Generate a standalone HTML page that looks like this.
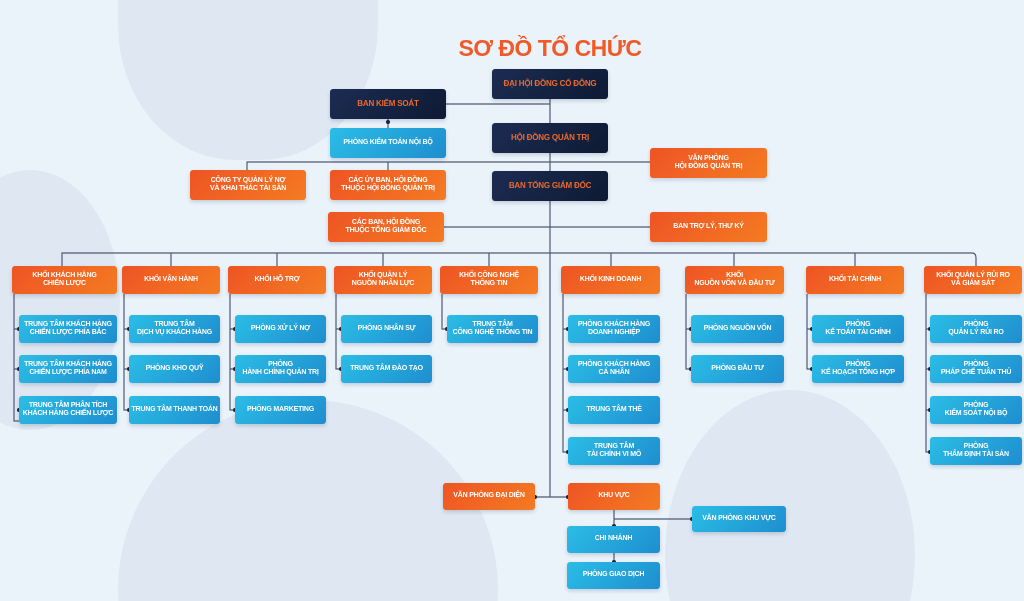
<!DOCTYPE html>
<html style="width:1024px;height:601px;overflow:hidden"><head><meta charset="utf-8"><style>
*{margin:0;padding:0;box-sizing:border-box}
body{width:1024px;height:601px;overflow:hidden;background:#ebf3fa;position:relative;font-family:"Liberation Sans","DejaVu Sans",sans-serif}
.bg{position:absolute;background:#dfe8f2;border-radius:50%}
.b{position:absolute;display:flex;align-items:center;justify-content:center;text-align:center;font-size:7px;font-weight:bold;line-height:1.2;color:#fff;border-radius:3px;box-shadow:0 2px 4px rgba(0,40,90,.18);text-transform:uppercase;letter-spacing:-.2px}
.d{background:linear-gradient(135deg,#1c2c52,#0e1a33);color:#ea6a30;font-size:8px}
.o{background:linear-gradient(135deg,#ee5424,#f47b22)}
.u{background:linear-gradient(135deg,#2bbde6,#1e8ecf)}
h1{position:absolute;left:0;width:1100px;top:35px;text-align:center;font-size:23px;color:#f05a28;font-weight:bold;letter-spacing:-.5px}
svg{position:absolute;left:0;top:0}
</style></head><body>
<div class="bg" style="left:118px;top:-140px;width:260px;height:300px;border-radius:45%"></div>
<div class="bg" style="left:-60px;top:170px;width:180px;height:260px"></div>
<div class="bg" style="left:118px;top:400px;width:380px;height:380px"></div>
<div class="bg" style="left:665px;top:390px;width:250px;height:330px"></div>
<h1>SƠ ĐỒ TỔ CHỨC</h1>
<svg width="1024" height="601" stroke="#4d5a73" stroke-width="1.2" fill="none">
<path d="M550 99V497M446 104H550M388 119V128M247 170V162H650M388 162V170M444 227H650M62 266V253H972Q976 253 976 258V266"/>
<path d="M171 253V266M277 253V266M383 253V266M489 253V266M611 253V266M734 253V266M855 253V266"/>
<path d="M14 294V421H19M14 329H19M14 369H19M124 294V410H129M124 329H129M124 369H129M230 294V410H235M230 329H235M230 369H235M336 294V369H341M336 329H341M442 294V329H447M563 294V452H568M563 329H568M563 369H568M563 410H568M686 294V369H691M686 329H691M807 294V369H812M807 329H812M926 294V452H930M926 329H930M926 369H930M926 410H930"/>
<path d="M535 497H568M614 510V519H692M614 519V526M614 553V562"/>
<g fill="#1a2540" stroke="none">
<circle cx="388" cy="122" r="2"/><circle cx="535" cy="497" r="2"/><circle cx="568" cy="497" r="2"/><circle cx="692" cy="519" r="2"/><circle cx="614" cy="526" r="2"/><circle cx="614" cy="562" r="2"/>
<circle cx="19" cy="329" r="2"/><circle cx="19" cy="369" r="2"/><circle cx="19" cy="410" r="2"/>
<circle cx="129" cy="329" r="2"/><circle cx="129" cy="369" r="2"/><circle cx="129" cy="410" r="2"/>
<circle cx="235" cy="329" r="2"/><circle cx="235" cy="369" r="2"/><circle cx="235" cy="410" r="2"/>
<circle cx="341" cy="329" r="2"/><circle cx="341" cy="369" r="2"/><circle cx="447" cy="329" r="2"/>
<circle cx="568" cy="329" r="2"/><circle cx="568" cy="369" r="2"/><circle cx="568" cy="410" r="2"/><circle cx="568" cy="452" r="2"/>
<circle cx="691" cy="329" r="2"/><circle cx="691" cy="369" r="2"/><circle cx="812" cy="329" r="2"/><circle cx="812" cy="369" r="2"/>
<circle cx="930" cy="329" r="2"/><circle cx="930" cy="369" r="2"/><circle cx="930" cy="410" r="2"/><circle cx="930" cy="452" r="2"/>
</g></svg>
<div class="b d" style="left:492px;top:69px;width:116px;height:30px">ĐẠI HỘI ĐỒNG CỔ ĐÔNG</div>
<div class="b d" style="left:330px;top:89px;width:116px;height:30px">BAN KIỂM SOÁT</div>
<div class="b u" style="left:330px;top:128px;width:116px;height:30px">PHÒNG KIỂM TOÁN NỘI BỘ</div>
<div class="b d" style="left:492px;top:123px;width:116px;height:30px">HỘI ĐỒNG QUẢN TRỊ</div>
<div class="b o" style="left:650px;top:148px;width:117px;height:30px">VĂN PHÒNG<br>HỘI ĐỒNG QUẢN TRỊ</div>
<div class="b o" style="left:190px;top:170px;width:116px;height:30px">CÔNG TY QUẢN LÝ NỢ<br>VÀ KHAI THÁC TÀI SẢN</div>
<div class="b o" style="left:330px;top:170px;width:116px;height:30px">CÁC ỦY BAN, HỘI ĐỒNG<br>THUỘC HỘI ĐỒNG QUẢN TRỊ</div>
<div class="b d" style="left:492px;top:171px;width:116px;height:30px">BAN TỔNG GIÁM ĐỐC</div>
<div class="b o" style="left:328px;top:212px;width:116px;height:30px">CÁC BAN, HỘI ĐỒNG<br>THUỘC TỔNG GIÁM ĐỐC</div>
<div class="b o" style="left:650px;top:212px;width:117px;height:30px">BAN TRỢ LÝ, THƯ KÝ</div>

<div class="b o" style="left:12px;top:266px;width:105px;height:28px">KHỐI KHÁCH HÀNG<br>CHIẾN LƯỢC</div>
<div class="b o" style="left:122px;top:266px;width:98px;height:28px">KHỐI VẬN HÀNH</div>
<div class="b o" style="left:228px;top:266px;width:98px;height:28px">KHỐI HỖ TRỢ</div>
<div class="b o" style="left:334px;top:266px;width:98px;height:28px">KHỐI QUẢN LÝ<br>NGUỒN NHÂN LỰC</div>
<div class="b o" style="left:440px;top:266px;width:98px;height:28px">KHỐI CÔNG NGHỆ<br>THÔNG TIN</div>
<div class="b o" style="left:561px;top:266px;width:99px;height:28px">KHỐI KINH DOANH</div>
<div class="b o" style="left:685px;top:266px;width:99px;height:28px">KHỐI<br>NGUỒN VỐN VÀ ĐẦU TƯ</div>
<div class="b o" style="left:806px;top:266px;width:98px;height:28px">KHỐI TÀI CHÍNH</div>
<div class="b o" style="left:924px;top:266px;width:98px;height:28px">KHỐI QUẢN LÝ RỦI RO<br>VÀ GIÁM SÁT</div>

<div class="b u" style="left:19px;top:315px;width:98px;height:28px">TRUNG TÂM KHÁCH HÀNG<br>CHIẾN LƯỢC PHÍA BẮC</div>
<div class="b u" style="left:19px;top:355px;width:98px;height:28px">TRUNG TÂM KHÁCH HÀNG<br>CHIẾN LƯỢC PHÍA NAM</div>
<div class="b u" style="left:19px;top:396px;width:98px;height:28px">TRUNG TÂM PHÂN TÍCH<br>KHÁCH HÀNG CHIẾN LƯỢC</div>
<div class="b u" style="left:129px;top:315px;width:91px;height:28px">TRUNG TÂM<br>DỊCH VỤ KHÁCH HÀNG</div>
<div class="b u" style="left:129px;top:355px;width:91px;height:28px">PHÒNG KHO QUỸ</div>
<div class="b u" style="left:129px;top:396px;width:91px;height:28px">TRUNG TÂM THANH TOÁN</div>
<div class="b u" style="left:235px;top:315px;width:91px;height:28px">PHÒNG XỬ LÝ NỢ</div>
<div class="b u" style="left:235px;top:355px;width:91px;height:28px">PHÒNG<br>HÀNH CHÍNH QUẢN TRỊ</div>
<div class="b u" style="left:235px;top:396px;width:91px;height:28px">PHÒNG MARKETING</div>
<div class="b u" style="left:341px;top:315px;width:91px;height:28px">PHÒNG NHÂN SỰ</div>
<div class="b u" style="left:341px;top:355px;width:91px;height:28px">TRUNG TÂM ĐÀO TẠO</div>
<div class="b u" style="left:447px;top:315px;width:91px;height:28px">TRUNG TÂM<br>CÔNG NGHỆ THÔNG TIN</div>
<div class="b u" style="left:568px;top:315px;width:92px;height:28px">PHÒNG KHÁCH HÀNG<br>DOANH NGHIỆP</div>
<div class="b u" style="left:568px;top:355px;width:92px;height:28px">PHÒNG KHÁCH HÀNG<br>CÁ NHÂN</div>
<div class="b u" style="left:568px;top:396px;width:92px;height:28px">TRUNG TÂM THẺ</div>
<div class="b u" style="left:568px;top:437px;width:92px;height:28px">TRUNG TÂM<br>TÀI CHÍNH VI MÔ</div>
<div class="b u" style="left:691px;top:315px;width:93px;height:28px">PHÒNG NGUỒN VỐN</div>
<div class="b u" style="left:691px;top:355px;width:93px;height:28px">PHÒNG ĐẦU TƯ</div>
<div class="b u" style="left:812px;top:315px;width:92px;height:28px">PHÒNG<br>KẾ TOÁN TÀI CHÍNH</div>
<div class="b u" style="left:812px;top:355px;width:92px;height:28px">PHÒNG<br>KẾ HOẠCH TỔNG HỢP</div>
<div class="b u" style="left:930px;top:315px;width:92px;height:28px">PHÒNG<br>QUẢN LÝ RỦI RO</div>
<div class="b u" style="left:930px;top:355px;width:92px;height:28px">PHÒNG<br>PHÁP CHẾ TUÂN THỦ</div>
<div class="b u" style="left:930px;top:396px;width:92px;height:28px">PHÒNG<br>KIỂM SOÁT NỘI BỘ</div>
<div class="b u" style="left:930px;top:437px;width:92px;height:28px">PHÒNG<br>THẨM ĐỊNH TÀI SẢN</div>

<div class="b o" style="left:443px;top:483px;width:92px;height:27px">VĂN PHÒNG ĐẠI DIỆN</div>
<div class="b o" style="left:568px;top:483px;width:92px;height:27px">KHU VỰC</div>
<div class="b u" style="left:692px;top:506px;width:94px;height:26px">VĂN PHÒNG KHU VỰC</div>
<div class="b u" style="left:567px;top:526px;width:93px;height:27px">CHI NHÁNH</div>
<div class="b u" style="left:567px;top:562px;width:93px;height:27px">PHÒNG GIAO DỊCH</div>
</body></html>
